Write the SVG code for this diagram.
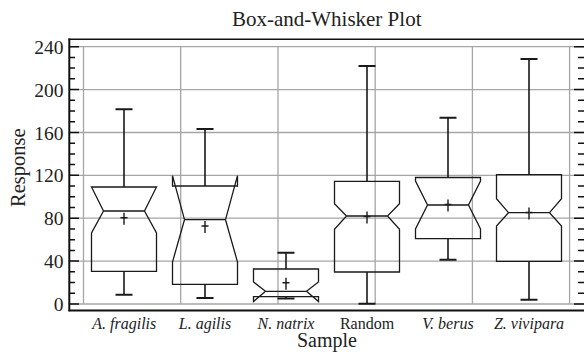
<svg xmlns="http://www.w3.org/2000/svg" width="584" height="352" viewBox="0 0 584 352">
<style>
.grid{stroke:#a6a6a6;stroke-width:1.3;fill:none}
.axis{stroke:#111;fill:none}
.box{stroke:#1a1a1a;stroke-width:1.3;fill:none;stroke-linejoin:miter}
.wh{stroke:#1a1a1a;stroke-width:1.6;fill:none}
.cap{stroke:#1a1a1a;stroke-width:2;fill:none}
.mean{stroke:#1a1a1a;stroke-width:1.4;fill:none}
.t{font-family:"Liberation Serif","Times New Roman",serif;fill:#222}
.tick{font-size:19.5px;text-anchor:end}
.cat{font-size:16px;text-anchor:middle}
.it{font-style:italic}
</style>
<rect width="584" height="352" fill="#fff"/>
<g id="grid">
<path class="grid" d="M69,304H584M69,261.1H584M69,218.2H584M69,175.3H584M69,132.5H584M69,89.6H584M69,46.7H584"/>
<path class="grid" d="M83.5,46.7V304M180.7,46.7V304M278,46.7V304M375.2,46.7V304M472.4,46.7V304M569.6,46.7V304"/>
</g>
<g id="axes">
<path class="axis" stroke-width="2" d="M69.3,38.5V311.3"/>
<path class="axis" stroke-width="1.6" d="M68.5,39.3H584"/>
<path class="axis" stroke-width="2" d="M68.5,310.4H584"/>
<path class="axis" stroke-width="1.5" d="M69,304h10M69,293.3h6M69,282.6h6M69,271.8h6M69,261.1h10M69,250.4h6M69,239.7h6M69,229h6M69,218.2h10M69,207.5h6M69,196.8h6M69,186.1h6M69,175.3h10M69,164.6h6M69,153.9h6M69,143.2h6M69,132.5h10M69,121.7h6M69,111h6M69,100.3h6M69,89.6h10M69,78.8h6M69,68.1h6M69,57.4h6M69,46.7h10"/>
<path class="axis" stroke-width="1.5" d="M584,304h-10M584,293.3h-6M584,282.6h-6M584,271.8h-6M584,261.1h-10M584,250.4h-6M584,239.7h-6M584,229h-6M584,218.2h-10M584,207.5h-6M584,196.8h-6M584,186.1h-6M584,175.3h-10M584,164.6h-6M584,153.9h-6M584,143.2h-6M584,132.5h-10M584,121.7h-6M584,111h-6M584,100.3h-6M584,89.6h-10M584,78.8h-6M584,68.1h-6M584,57.4h-6M584,46.7h-10"/>
<text class="t tick" x="63.5" y="311">0</text>
<text class="t tick" x="63.5" y="268.1">40</text>
<text class="t tick" x="63.5" y="225.2">80</text>
<text class="t tick" x="63.5" y="182.3">120</text>
<text class="t tick" x="63.5" y="139.5">160</text>
<text class="t tick" x="63.5" y="96.6">200</text>
<text class="t tick" x="63.5" y="53.7">240</text>
</g>
<g id="box-a-fragilis">
<path class="wh" d="M124,187V109.3M124,271.3V294.7"/>
<path class="cap" d="M115.5,109.3h17M115.5,294.7h17"/>
<path class="box" d="M91.5,271.3V233L103.5,211L91.5,187H156.5L144.5,211L156.5,233V271.3Z M103.5,211H144.5"/>
<path class="mean" d="M120.5,217.7h7M124,212.7v12"/>
<text class="t cat it" x="124.3" y="328.5">A. fragilis</text>
</g>
<g id="box-l-agilis">
<path class="wh" d="M205,186V129M205,284.3V298"/>
<path class="cap" d="M196.5,129h17M196.5,298h17"/>
<path class="box" d="M172.5,284.3V262L184.5,219.7L172.5,175.7V186H237.5V175.7L225.5,219.7L237.5,262V284.3Z M184.5,219.7H225.5"/>
<path class="mean" d="M201.5,226h7M205,221v12"/>
<text class="t cat it" x="205" y="328.5">L. agilis</text>
</g>
<g id="box-n-natrix">
<path class="wh" d="M286,269V252.7M286,296.7V298.5"/>
<path class="cap" d="M277.5,252.7h17M277.5,298.5h17"/>
<path class="box" d="M253.5,296.7V301.5L265.5,291.3L253.5,282V269H318.5V282L306.5,291.3L318.5,301.5V296.7Z M265.5,291.3H306.5"/>
<path class="mean" d="M282.5,282.7h7M286,277.7v12"/>
<text class="t cat it" x="286" y="328.5">N. natrix</text>
</g>
<g id="box-random">
<path class="wh" d="M367,181.3V66M367,272V303.7"/>
<path class="cap" d="M358.5,66h17M358.5,303.7h17"/>
<path class="box" d="M334.5,272V229.3L346.5,216L334.5,203.7V181.3H399.5V203.7L387.5,216L399.5,229.3V272Z M346.5,216H387.5"/>
<path class="mean" d="M363.5,216.5h7M367,211.5v12"/>
<text class="t cat" x="367" y="328.5">Random</text>
</g>
<g id="box-v-berus">
<path class="wh" d="M448,177.5V117.7M448,238.7V259.7"/>
<path class="cap" d="M439.5,117.7h17M439.5,259.7h17"/>
<path class="box" d="M415.5,238.7V229L427.5,205L415.5,181V177.5H480.5V181L468.5,205L480.5,229V238.7Z M427.5,205H468.5"/>
<path class="mean" d="M444.5,204.5h7M448,199.5v12"/>
<text class="t cat it" x="448" y="328.5">V. berus</text>
</g>
<g id="box-z-vivipara">
<path class="wh" d="M529,174.7V59M529,261.3V299.7"/>
<path class="cap" d="M520.5,59h17M520.5,299.7h17"/>
<path class="box" d="M496.5,261.3V226L508.5,212.7L496.5,198.7V174.7H561.5V198.7L549.5,212.7L561.5,226V261.3Z M508.5,212.7H549.5"/>
<path class="mean" d="M525.5,212.5h7M529,207.5v12"/>
<text class="t cat it" x="529" y="328.5">Z. vivipara</text>
</g>
<g id="labels">
<text class="t" x="326.7" y="26" font-size="21" text-anchor="middle">Box-and-Whisker Plot</text>
<text class="t" x="327" y="347.3" font-size="20" text-anchor="middle">Sample</text>
<text class="t" transform="translate(24.5,167.7) rotate(-90)" font-size="20.5" text-anchor="middle">Response</text>
</g>
</svg>
